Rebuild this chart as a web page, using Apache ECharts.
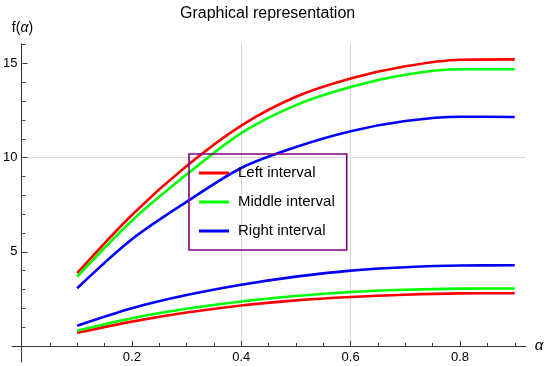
<!DOCTYPE html>
<html>
<head>
<meta charset="utf-8">
<script src="https://cdn.jsdelivr.net/npm/echarts@6/dist/echarts.min.js"></script>
<style>html,body{margin:0;padding:0;background:#fff;}#c{width:550px;height:366px;}</style>
</head>
<body>
<div id="c"></div>
<script>
const alpha = [0.1, 0.2, 0.3, 0.4, 0.5, 0.6, 0.7, 0.8, 0.9];
const upperLeft   = [3.86, 6.95, 9.55, 11.7, 13.23, 14.2, 14.85, 15.2, 15.22];
const upperMiddle = [3.68, 6.65, 9.1, 11.3, 12.79, 13.75, 14.4, 14.69, 14.69];
const upperRight  = [3.06, 5.66, 7.65, 9.45, 10.56, 11.4, 11.94, 12.17, 12.16];
const lowerLeft   = [0.70, 1.29, 1.77, 2.15, 2.42, 2.6, 2.72, 2.79, 2.80];
const lowerMiddle = [0.81, 1.47, 1.97, 2.36, 2.65, 2.86, 2.98, 3.04, 3.05];
const lowerRight  = [1.07, 2.0, 2.7, 3.25, 3.68, 4.0, 4.18, 4.27, 4.28];
const names = ['Left interval', 'Middle interval', 'Right interval'];
const colors = ['#ff0000', '#00ff00', '#0000ff'];
const xTicks = [0.2, 0.4, 0.6, 0.8];
const yTicks = [5, 10, 15];

const font = 'Liberation Sans, Arial, sans-serif';
const pairs = arr => alpha.map((a, i) => [a, arr[i]]);
function mk(name, color, arr) {
  return {
    type: 'line', name: name, xAxisIndex: 0, yAxisIndex: 0,
    data: pairs(arr), smooth: 0.3, symbol: 'none',
    lineStyle: { color: color, width: 2.6 }, itemStyle: { color: color }
  };
}
const chart = echarts.init(document.getElementById('c'), null, { renderer: 'canvas' });
chart.setOption({
  animation: false,
  backgroundColor: '#fff',
  textStyle: { fontFamily: font },
  title: {
    text: 'Graphical representation', left: 175, top: 1,
    textStyle: { fontFamily: font, fontSize: 16, fontWeight: 'normal', color: '#000' }
  },
  legend: {
    data: names.map((n, i) => ({ name: n, icon: 'rect', itemStyle: { color: colors[i] } })),
    orient: 'vertical', left: 189, top: 154,
    padding: [10, 12, 10, 10], itemGap: 11, itemWidth: 30, itemHeight: 3,
    borderColor: '#800080', borderWidth: 1.6, backgroundColor: 'transparent',
    textStyle: { fontFamily: font, fontSize: 15, color: '#000', padding: [0, 0, 0, 4], lineHeight: 18 }
  },
  grid: [
    { left: 21.3, right: 24.3, top: 43.7, bottom: 20.1 },
    { left: 12, right: 24.3, top: 43.7, bottom: 4 }
  ],
  xAxis: [
    {
      type: 'value', gridIndex: 0, min: 0, max: 0.92, interval: 0.2,
      name: 'α', nameLocation: 'end', nameGap: 9,
      nameTextStyle: { fontFamily: font, fontSize: 15, fontStyle: 'italic', color: '#000', verticalAlign: 'middle' },
      axisLine: { show: false },
      axisTick: { show: true, inside: true, length: 5, customValues: xTicks, lineStyle: { color: '#333' } },
      minorTick: { show: true, splitNumber: 4, length: 3, lineStyle: { color: '#333' } },
      axisLabel: { customValues: xTicks, margin: 5, fontSize: 13, color: '#000', fontFamily: font,
                   formatter: v => v.toFixed(1) },
      splitLine: { show: true, showMinLine: false, showMaxLine: false, lineStyle: { color: '#d9d9d9', width: 1 } }
    },
    {
      type: 'value', gridIndex: 1, min: -0.017, max: 0.92,
      axisLine: { show: true, onZero: true, lineStyle: { color: '#333', width: 1 } },
      axisTick: { show: false }, axisLabel: { show: false }, splitLine: { show: false }
    }
  ],
  yAxis: [
    {
      type: 'value', gridIndex: 0, min: 0, max: 16.05, interval: 5,
      name: '{n|f(}{i|α}{n|)}', nameLocation: 'end', nameGap: 9,
      nameTextStyle: { rich: {
        n: { fontFamily: font, fontSize: 14, color: '#000' },
        i: { fontFamily: font, fontSize: 14, fontStyle: 'italic', color: '#000' } } },
      axisLine: { show: false },
      axisTick: { show: true, inside: true, length: 5, customValues: yTicks, lineStyle: { color: '#333' } },
      minorTick: { show: true, splitNumber: 5, length: 3, lineStyle: { color: '#333' } },
      axisLabel: { customValues: yTicks, margin: 5, fontSize: 13, color: '#000', fontFamily: font },
      splitLine: { show: true, showMinLine: false, showMaxLine: false, lineStyle: { color: '#d9d9d9', width: 1 } }
    },
    {
      type: 'value', gridIndex: 1, min: -0.855, max: 16.05,
      axisLine: { show: true, onZero: true, lineStyle: { color: '#333', width: 1 } },
      axisTick: { show: false }, axisLabel: { show: false }, splitLine: { show: false }
    }
  ],
  series: [
    mk(names[0], colors[0], upperLeft),
    mk(names[1], colors[1], upperMiddle),
    mk(names[2], colors[2], upperRight),
    mk(names[0], colors[0], lowerLeft),
    mk(names[1], colors[1], lowerMiddle),
    mk(names[2], colors[2], lowerRight)
  ]
});
</script>
</body>
</html>
